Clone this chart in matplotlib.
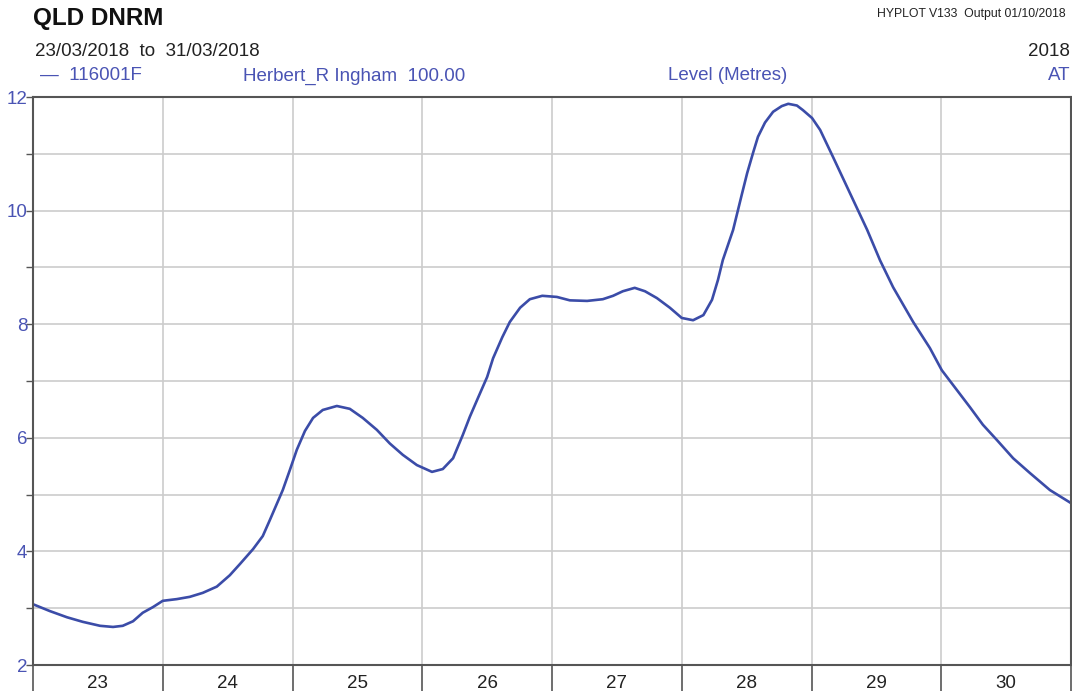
import matplotlib
matplotlib.use("Agg")
import matplotlib.pyplot as plt
from matplotlib.ticker import MultipleLocator, FixedLocator, NullFormatter

plt.rcParams['font.family'] = ['Liberation Sans', 'DejaVu Sans']

# Herbert River at Ingham (116001F), hours after 23/03/2018 00:00
hours = [0.0, 3.1, 6.3, 9.2, 12.4, 14.8, 16.6, 18.5, 20.3, 22.2,
         24.0, 26.6, 29.0, 31.4, 34.0, 36.4, 38.3, 40.7, 42.5, 43.8,
         46.2, 47.5, 48.8, 50.3, 51.8, 53.6, 56.2, 58.6, 61.0, 63.6,
         66.0, 68.4, 71.0, 73.8, 75.8, 77.7, 79.5, 80.8, 82.3, 84.0,
         85.1, 86.8, 88.2, 90.1, 91.9, 94.2, 96.9, 99.3, 102.5, 105.4,
         107.3, 109.1, 111.3, 113.2, 115.4, 117.8, 120.0, 122.1, 124.0, 125.6,
         126.7, 127.6, 129.5, 131.1, 132.1, 133.2, 134.1, 135.4, 136.9, 138.5,
         139.7, 141.3, 142.4, 144.1, 145.6, 148.0, 151.1, 154.3, 156.7, 159.1,
         162.8, 165.9, 168.1, 170.9, 173.3, 175.7, 178.3, 181.3, 184.4, 188.1,
         192.0]
level = [3.07, 2.95, 2.84, 2.76, 2.69, 2.67, 2.69, 2.77, 2.92, 3.02,
         3.13, 3.16, 3.20, 3.27, 3.38, 3.58, 3.78, 4.04, 4.27, 4.55,
         5.08, 5.43, 5.79, 6.12, 6.35, 6.49, 6.56, 6.51, 6.35, 6.14,
         5.90, 5.70, 5.52, 5.40, 5.45, 5.64, 6.05, 6.37, 6.70, 7.07,
         7.40, 7.77, 8.04, 8.29, 8.44, 8.50, 8.48, 8.42, 8.41, 8.44,
         8.50, 8.58, 8.64, 8.58, 8.46, 8.29, 8.11, 8.07, 8.16, 8.43,
         8.78, 9.13, 9.66, 10.28, 10.66, 11.02, 11.30, 11.55, 11.74, 11.84,
         11.88, 11.85, 11.77, 11.63, 11.42, 10.94, 10.31, 9.66, 9.12, 8.65,
         8.04, 7.58, 7.19, 6.84, 6.54, 6.23, 5.96, 5.64, 5.38, 5.08,
         4.85]
day_labels = ['23', '24', '25', '26', '27', '28', '29', '30']

blue = '#3b4ca8'
text_blue = '#4a54b4'
frame = '#555555'

fig = plt.figure(figsize=(10.72, 6.93), dpi=100)
ax = fig.add_axes([33 / 1072, 28 / 693, 1038 / 1072, 568 / 693])

days = [23 + h / 24 for h in hours]
ax.plot(days, level, color=blue, lw=1.9, solid_joinstyle='round',
        solid_capstyle='round')

ax.set_xlim(23, 31)
ax.set_ylim(2, 12)

# y axis: labelled every 2 m, grid every metre
ax.yaxis.set_major_locator(MultipleLocator(2))
ax.yaxis.set_minor_locator(MultipleLocator(1))
ax.tick_params(axis='y', which='both', direction='out', length=5, width=1,
               color=frame, pad=-1, labelsize=13.5, labelcolor=text_blue)

# x axis: long ticks at day boundaries, day labels at noon
ax.xaxis.set_major_locator(FixedLocator(range(23, 32)))
ax.xaxis.set_major_formatter(NullFormatter())
ax.xaxis.set_minor_locator(FixedLocator([d + 0.5 for d in range(23, 31)]))
ax.set_xticklabels(day_labels, minor=True)
ax.tick_params(axis='x', which='major', direction='out', length=19, width=1.2,
               color=frame)
ax.tick_params(axis='x', which='minor', length=0, pad=7, labelsize=13.5,
               labelcolor='#222222')

ax.grid(True, which='major', axis='x', color='#cccccc', lw=1.2)
ax.grid(True, which='both', axis='y', color='#cccccc', lw=1.2)
ax.set_axisbelow(True)
for sp in ax.spines.values():
    sp.set_color(frame)
    sp.set_linewidth(1.5)

# header text
fig.text(33 / 1072, 1 - 18 / 693, 'QLD DNRM', fontsize=17.5, fontweight='bold',
         va='center', ha='left', color='#111111')
fig.text(1066 / 1072, 1 - 14 / 693, 'HYPLOT V133  Output 01/10/2018', fontsize=8.8,
         va='center', ha='right', color='#222222')
fig.text(35 / 1072, 1 - 52 / 693, '23/03/2018  to  31/03/2018', fontsize=13.5,
         va='center', ha='left', color='#222222')
fig.text(1070 / 1072, 1 - 52 / 693, '2018', fontsize=13.5,
         va='center', ha='right', color='#222222')
fig.text(40 / 1072, 1 - 76 / 693, '\u2014  116001F', fontsize=13.5,
         va='center', ha='left', color=text_blue)
fig.text(243 / 1072, 1 - 76 / 693, 'Herbert_R Ingham  100.00', fontsize=13.5,
         va='center', ha='left', color=text_blue)
fig.text(668 / 1072, 1 - 76 / 693, 'Level (Metres)', fontsize=13.5,
         va='center', ha='left', color=text_blue)
fig.text(1070 / 1072, 1 - 76 / 693, 'AT', fontsize=13.5,
         va='center', ha='right', color=text_blue)

fig.savefig('out.png', dpi=100)
